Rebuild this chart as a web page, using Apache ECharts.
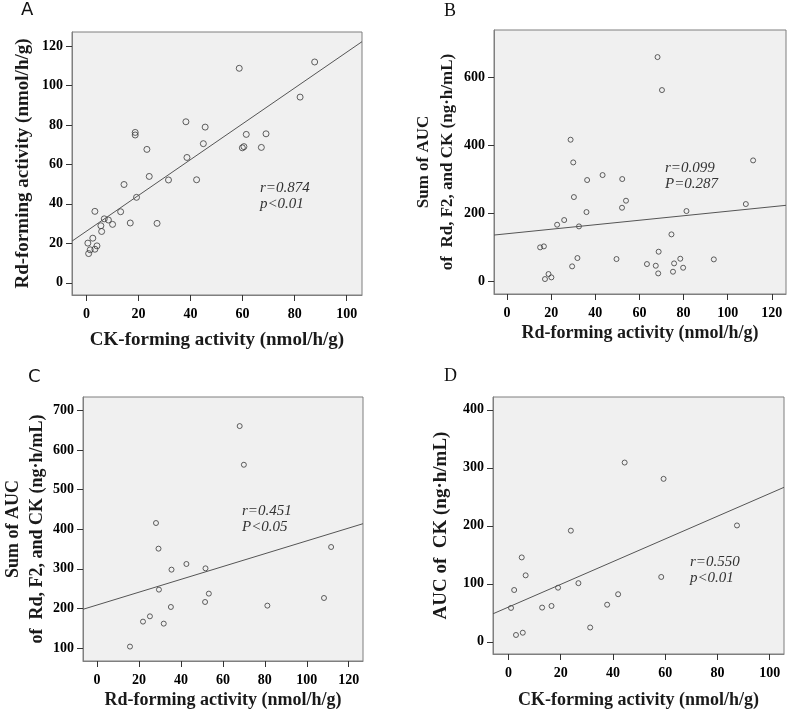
<!DOCTYPE html>
<html>
<head>
<meta charset="utf-8">
<script src="https://cdn.jsdelivr.net/npm/echarts@6/dist/echarts.min.js"></script>
<style>
  html, body { margin: 0; padding: 0; background: #fff; }
  #chart { width: 787px; height: 713px; }
</style>
</head>
<body>
<div id="chart"></div>
<script>
// Panel A: CK-forming vs Rd-forming activity
var ckA = [87.7, 58.7, 82.1, 38.2, 45.6, 61.4, 69.0, 18.7, 18.7, 44.9, 23.2, 59.9, 60.5, 67.2, 38.6,
  24.1, 31.5, 42.3, 14.4, 19.2, 3.2, 13.1, 6.8, 8.4, 16.8, 27.1, 5.5, 10.0, 5.8, 0.5, 2.4, 1.4, 0.8, 3.2, 4.0];
var rdA = [111.9, 108.7, 94.1, 81.6, 78.9, 75.2, 75.5, 76.2, 74.9, 70.5, 67.6, 68.4, 69.0, 68.6, 63.5,
  53.9, 52.1, 52.2, 49.8, 43.3, 36.2, 36.0, 32.4, 31.8, 30.3, 30.1, 28.9, 29.6, 26.0, 20.1, 22.6, 16.7, 14.8, 17.0, 18.7];
var fitA = [[-5.6, 21.1], [105.9, 122.2]];

// Panel B: Rd-forming vs sum of AUC (all subjects)
var rdB = [68.2, 70.2, 28.8, 30.0, 111.5, 43.3, 36.3, 52.2, 30.3, 53.9, 52.1, 108.2, 36.0, 81.3, 25.9,
  22.7, 32.6, 74.5, 15.0, 16.7, 68.7, 31.9, 49.6, 78.5, 93.7, 63.4, 75.7, 67.4, 29.5, 79.8, 75.2, 68.5, 18.8, 20.1, 17.2];
var aucSumB = [658.6, 561.9, 416.3, 349.8, 355.7, 312.7, 298.1, 301.0, 248.2, 237.5, 216.9, 227.7, 204.2, 207.2, 180.8,
  167.1, 162.2, 138.8, 100.7, 103.6, 88.0, 69.4, 66.5, 67.4, 65.5, 51.8, 53.7, 46.9, 45.0, 41.0, 29.3, 24.4, 22.5, 12.7, 7.8];
var fitB = [[-5.9, 136.8], [126.4, 224.0]];

// Panel C: Rd-forming vs sum of AUC (subset)
var rdC = [68.0, 70.0, 28.1, 29.3, 111.6, 42.6, 35.5, 51.7, 29.5, 53.3, 51.5, 108.2, 35.2, 81.2, 25.2, 21.9, 31.8, 15.7];
var aucSumC = [660.5, 562.8, 415.6, 350.8, 355.0, 312.1, 297.8, 301.1, 247.3, 237.2, 216.1, 226.2, 203.5, 206.9, 179.9, 166.5, 161.4, 103.4];
var fitC = [[-6.7, 197.6], [126.8, 413.9]];

// Panel D: CK-forming vs AUC of CK
var ckD = [44.5, 59.4, 87.5, 23.9, 5.1, 6.6, 58.5, 26.8, 2.2, 19.0, 42.0, 37.8, 1.0, 12.9, 16.5, 31.3, 2.9, 5.5];
var aucCkD = [309.0, 280.9, 200.6, 191.6, 145.5, 114.6, 111.8, 101.1, 89.3, 93.3, 82.0, 64.0, 58.4, 59.0, 61.8, 24.7, 11.8, 15.7];
var fitD = [[-5.9, 48.3], [105.5, 266.3]];

// tick labels
var ticksCk = [0, 20, 40, 60, 80, 100];
var ticksRdY = [0, 20, 40, 60, 80, 100, 120];
var ticksRdX = [0, 20, 40, 60, 80, 100, 120];
var ticksAucB = [0, 200, 400, 600];
var ticksAucC = [100, 200, 300, 400, 500, 600, 700];
var ticksAucD = [0, 100, 200, 300, 400];

var serif = 'Liberation Serif';
var ink = '#1a1a1a';

function pairs(xs, ys) {
  return xs.map(function (x, i) { return [x, ys[i]]; });
}

function grid(left, top, right, bottom) {
  return {
    left: left, top: top, width: right - left, height: bottom - top,
    show: true, backgroundColor: '#f0f0f0', borderColor: '#7f7f7f', borderWidth: 1
  };
}

function axis(idx, min, max, ticks, name, gap, size, isY) {
  return {
    type: 'value', gridIndex: idx, min: min, max: max,
    name: name, nameLocation: 'middle', nameGap: gap,
    nameTextStyle: { fontFamily: serif, fontWeight: 'bold', fontSize: size, color: ink, lineHeight: 24 },
    axisLine: { show: true, onZero: false, lineStyle: { color: '#7f7f7f', width: 1 } },
    axisTick: { show: true, inside: false, length: 6, customValues: ticks, lineStyle: { color: '#333' } },
    axisLabel: {
      customValues: ticks, margin: isY ? 9 : 12,
      fontFamily: serif, fontWeight: 'bold', fontSize: 14, color: '#000'
    },
    splitLine: { show: false }
  };
}

function dots(idx, data, size) {
  return {
    type: 'scatter', xAxisIndex: idx, yAxisIndex: idx, data: data,
    symbol: 'circle', symbolSize: size,
    itemStyle: { color: 'rgba(0,0,0,0)', borderColor: '#3a3a3a', borderWidth: 1 },
    silent: true
  };
}

function fit(idx, data) {
  return {
    type: 'line', xAxisIndex: idx, yAxisIndex: idx, data: data,
    symbol: 'none', lineStyle: { color: '#555', width: 1 }, silent: true
  };
}

function note(x, y, txt) {
  return {
    type: 'text', left: x, top: y,
    style: { text: txt, fontFamily: serif, fontStyle: 'italic', fontSize: 15, fill: '#333', lineHeight: 16 }
  };
}

function letter(x, y, txt, font) {
  return {
    type: 'text', left: x, top: y,
    style: { text: txt, fontFamily: font, fontSize: 18, fill: '#111' }
  };
}

var chart = echarts.init(document.getElementById('chart'));
chart.setOption({
  animation: false,
  grid: [
    grid(72, 32, 362, 295),
    grid(494, 30, 786, 294),
    grid(72, 397, 363, 661),
    grid(493, 397, 784, 659)
  ],
  xAxis: [
    axis(0, -5.6, 105.9, ticksCk, 'CK-forming activity (nmol/h/g)', 33, 19, false),
    axis(1, -5.9, 126.4, ticksRdX, 'Rd-forming activity (nmol/h/g)', 27, 18, false),
    axis(2, -6.7, 126.8, ticksRdX, 'Rd-forming activity (nmol/h/g)', 25, 18, false),
    axis(3, -5.9, 105.5, ticksCk, 'CK-forming activity (nmol/h/g)', 34, 18, false)
  ],
  yAxis: [
    axis(0, -6.2, 127.1, ticksRdY, 'Rd-forming activity (nmol/h/g)', 37, 19, true),
    axis(1, -36, 738, ticksAucB, 'Sum of AUC\nof  Rd, F2, and CK (ng·h/mL)', 28, 17, true),
    axis(2, 67, 734, ticksAucC, 'Sum of AUC\nof  Rd, F2, and CK (ng·h/mL)', 34, 18, true),
    axis(3, -21, 422, ticksAucD, 'AUC of  CK (ng·h/mL)', 40, 19, true)
  ],
  series: [
    dots(0, pairs(ckA, rdA), 6), fit(0, fitA),
    dots(1, pairs(rdB, aucSumB), 5), fit(1, fitB),
    dots(2, pairs(rdC, aucSumC), 5), fit(2, fitC),
    dots(3, pairs(ckD, aucCkD), 5), fit(3, fitD)
  ],
  graphic: [
    letter(21, 1, 'A', 'DejaVu Sans'),
    letter(444, 2, 'B', serif),
    letter(28, 368, 'C', 'DejaVu Sans'),
    letter(444, 367, 'D', serif),
    note(260, 180, 'r=0.874\np<0.01'),
    note(665, 160, 'r=0.099\nP=0.287'),
    note(242, 503, 'r=0.451\nP<0.05'),
    note(690, 554, 'r=0.550\np<0.01')
  ]
});
</script>
</body>
</html>
